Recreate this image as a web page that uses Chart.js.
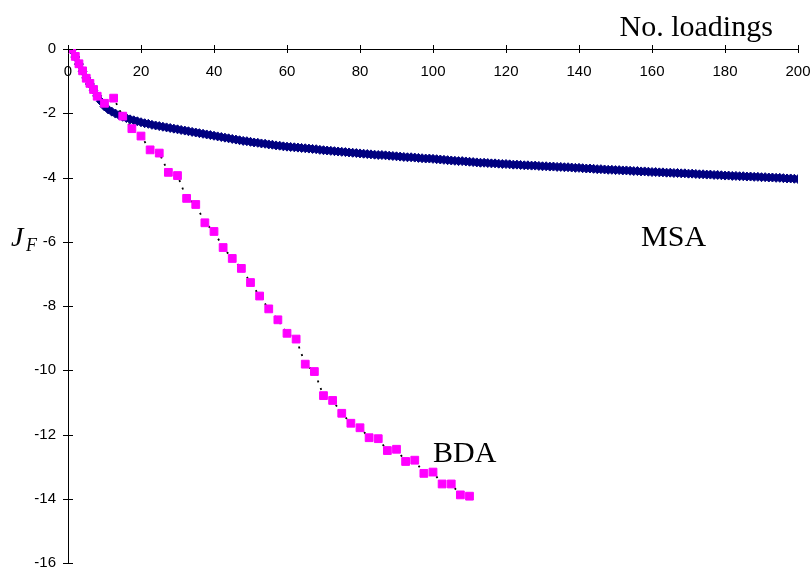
<!DOCTYPE html>
<html>
<head>
<meta charset="utf-8">
<script src="https://cdn.jsdelivr.net/npm/chart.js@4.4.1/dist/chart.umd.min.js"></script>
<style>
  html, body { margin: 0; padding: 0; background: #fff; overflow: hidden; }
  #wrap { width: 812px; height: 568px; overflow: hidden; }
</style>
</head>
<body>
<!-- canvas a bit taller than the page so the -16 label can sit at the very bottom -->
<div id="wrap"><canvas id="jfChart" width="812" height="572"></canvas></div>
<script>
// MSA: one value for each number of loadings, 1..200
const msaValues = [
  -0.03, -0.25, -0.47, -0.69, -0.90, -1.09, -1.28, -1.46, -1.63, -1.79,
  -1.88, -1.95, -2.01, -2.06, -2.11, -2.15, -2.19, -2.22, -2.25, -2.28,
  -2.31, -2.33, -2.36, -2.38, -2.40, -2.42, -2.44, -2.46, -2.48, -2.50,
  -2.52, -2.54, -2.56, -2.58, -2.60, -2.62, -2.64, -2.66, -2.68, -2.70,
  -2.72, -2.74, -2.76, -2.78, -2.80, -2.82, -2.84, -2.86, -2.87, -2.89,
  -2.91, -2.92, -2.94, -2.95, -2.97, -2.98, -3.00, -3.01, -3.03, -3.04,
  -3.05, -3.06, -3.07, -3.08, -3.09, -3.10, -3.11, -3.12, -3.14, -3.15,
  -3.16, -3.17, -3.18, -3.19, -3.20, -3.21, -3.22, -3.23, -3.24, -3.25,
  -3.26, -3.27, -3.28, -3.29, -3.30, -3.30, -3.31, -3.32, -3.33, -3.34,
  -3.35, -3.36, -3.37, -3.37, -3.38, -3.39, -3.40, -3.41, -3.41, -3.42,
  -3.43, -3.44, -3.45, -3.46, -3.47, -3.48, -3.49, -3.49, -3.50, -3.51,
  -3.52, -3.53, -3.54, -3.54, -3.55, -3.56, -3.56, -3.57, -3.58, -3.58,
  -3.59, -3.60, -3.60, -3.61, -3.62, -3.62, -3.63, -3.63, -3.64, -3.65,
  -3.65, -3.66, -3.66, -3.67, -3.67, -3.68, -3.68, -3.69, -3.70, -3.70,
  -3.71, -3.72, -3.72, -3.73, -3.74, -3.74, -3.75, -3.76, -3.76, -3.77,
  -3.77, -3.78, -3.78, -3.79, -3.80, -3.80, -3.81, -3.81, -3.82, -3.83,
  -3.83, -3.84, -3.84, -3.85, -3.85, -3.86, -3.86, -3.87, -3.87, -3.88,
  -3.88, -3.89, -3.90, -3.90, -3.91, -3.91, -3.92, -3.92, -3.93, -3.94,
  -3.94, -3.95, -3.95, -3.96, -3.96, -3.97, -3.97, -3.98, -3.98, -3.99,
  -3.99, -4.00, -4.00, -4.01, -4.01, -4.02, -4.03, -4.03, -4.04, -4.05
];

// BDA: number of loadings and J_F
const bdaLoadings = [
  1, 2, 3, 4, 5, 6, 7, 8, 10, 12.5, 15, 17.5, 20, 22.5, 25, 27.5, 30, 32.5,
  35, 37.5, 40, 42.5, 45, 47.5, 50, 52.5, 55, 57.5, 60, 62.5, 65, 67.5, 70,
  72.5, 75, 77.5, 80, 82.5, 85, 87.5, 90, 92.5, 95, 97.5, 100, 102.5, 105,
  107.5, 110
];
const bdaValues = [
  0.00, -0.23, -0.46, -0.68, -0.91, -1.07, -1.26, -1.47, -1.69, -1.53,
  -2.09, -2.48, -2.71, -3.14, -3.24, -3.84, -3.94, -4.65, -4.84, -5.41,
  -5.68, -6.18, -6.52, -6.83, -7.27, -7.69, -8.09, -8.43, -8.85, -9.03,
  -9.81, -10.04, -10.79, -10.94, -11.34, -11.65, -11.79, -12.10, -12.13, -12.50,
  -12.46, -12.84, -12.80, -13.21, -13.17, -13.54, -13.54, -13.88, -13.92
];

const xMin = 0, xMax = 200, xStep = 20;
const yMin = -16, yMax = 0, yStep = 2;
const xTitle = 'No. loadings';
const seriesNames = ['MSA', 'BDA'];

const msaPoints = msaValues.map((v, i) => ({ x: i + 1, y: v }));
const bdaPoints = bdaLoadings.map((x, i) => ({ x: x, y: bdaValues[i] }));

// tick marks crossing both axes, like the original
const crossTicks = {
  id: 'crossTicks',
  afterDraw(chart) {
    const { ctx, chartArea, scales: { x, y } } = chart;
    const axisY = y.getPixelForValue(0);
    ctx.save();
    ctx.strokeStyle = '#000';
    ctx.lineWidth = 1;
    ctx.beginPath();
    x.ticks.forEach(t => {
      const px = Math.round(x.getPixelForValue(t.value)) + 0.5;
      ctx.moveTo(px, axisY - 4);
      ctx.lineTo(px, axisY + 4);
    });
    y.ticks.forEach(t => {
      const py = Math.round(y.getPixelForValue(t.value)) + 0.5;
      ctx.moveTo(chartArea.left - 5, py);
      ctx.lineTo(chartArea.left + 5, py);
    });
    ctx.stroke();
    ctx.restore();
  }
};

// free text: axis title, series names, J_F
const textLabels = {
  id: 'textLabels',
  afterDraw(chart) {
    const { ctx, chartArea, scales: { x, y } } = chart;
    ctx.save();
    ctx.fillStyle = '#000';
    ctx.textBaseline = 'middle';
    ctx.font = '30px "Liberation Serif", "Times New Roman", serif';
    ctx.textAlign = 'right';
    ctx.fillText(xTitle, x.getPixelForValue(193.1), y.getPixelForValue(0.66));
    ctx.textAlign = 'left';
    ctx.fillText(seriesNames[0], x.getPixelForValue(157), y.getPixelForValue(-5.88));
    ctx.fillText(seriesNames[1], x.getPixelForValue(100), y.getPixelForValue(-12.62));
    const jy = y.getPixelForValue(-5.9);
    ctx.font = 'italic 28px "Liberation Serif", "Times New Roman", serif';
    ctx.fillText('J', chartArea.left - 57, jy);
    ctx.font = 'italic 18px "Liberation Serif", "Times New Roman", serif';
    ctx.fillText('F', chartArea.left - 42, jy + 8);
    ctx.restore();
  }
};

const tickFont = { family: '"Liberation Sans", Arial, sans-serif', size: 15 };

new Chart(document.getElementById('jfChart').getContext('2d'), {
  type: 'scatter',
  data: {
    datasets: [
      {
        label: seriesNames[1],
        data: bdaPoints,
        order: 0,
        showLine: true,
        borderColor: '#000',
        borderWidth: 1.8,
        borderDash: [2, 6],
        pointStyle: 'rect',
        pointRadius: 5.5,
        pointBackgroundColor: '#ff00ff',
        pointBorderColor: '#ff00ff',
        pointBorderWidth: 1
      },
      {
        label: seriesNames[0],
        data: msaPoints,
        order: 1,
        showLine: false,
        pointStyle: 'rectRot',
        pointRadius: 4.5,
        pointBackgroundColor: '#000080',
        pointBorderColor: '#000080',
        pointBorderWidth: 1
      }
    ]
  },
  options: {
    responsive: false,
    animation: false,
    layout: { padding: { left: 0, right: 14, top: 49, bottom: 9 } },
    plugins: {
      legend: { display: false },
      tooltip: { enabled: false }
    },
    scales: {
      x: {
        type: 'linear',
        position: { y: 0 },
        min: xMin,
        max: xMax,
        afterFit: s => { s.height = 0; s.paddingLeft = 0; s.paddingRight = 0; s.paddingTop = 0; s.paddingBottom = 0; },
        grid: { display: true, drawOnChartArea: false, drawTicks: false },
        border: { display: true, color: '#000', width: 1 },
        ticks: { stepSize: xStep, autoSkip: false, maxRotation: 0, padding: 14, color: '#000', font: tickFont }
      },
      y: {
        type: 'linear',
        position: 'left',
        min: yMin,
        max: yMax,
        afterFit: s => { s.width = 68; s.paddingLeft = 0; s.paddingRight = 0; s.paddingTop = 0; s.paddingBottom = 0; },
        grid: { display: true, drawOnChartArea: false, drawTicks: false },
        border: { display: true, color: '#000', width: 1 },
        ticks: { stepSize: yStep, autoSkip: false, padding: 12, color: '#000', font: tickFont }
      }
    }
  },
  plugins: [crossTicks, textLabels]
});
</script>
</body>
</html>
